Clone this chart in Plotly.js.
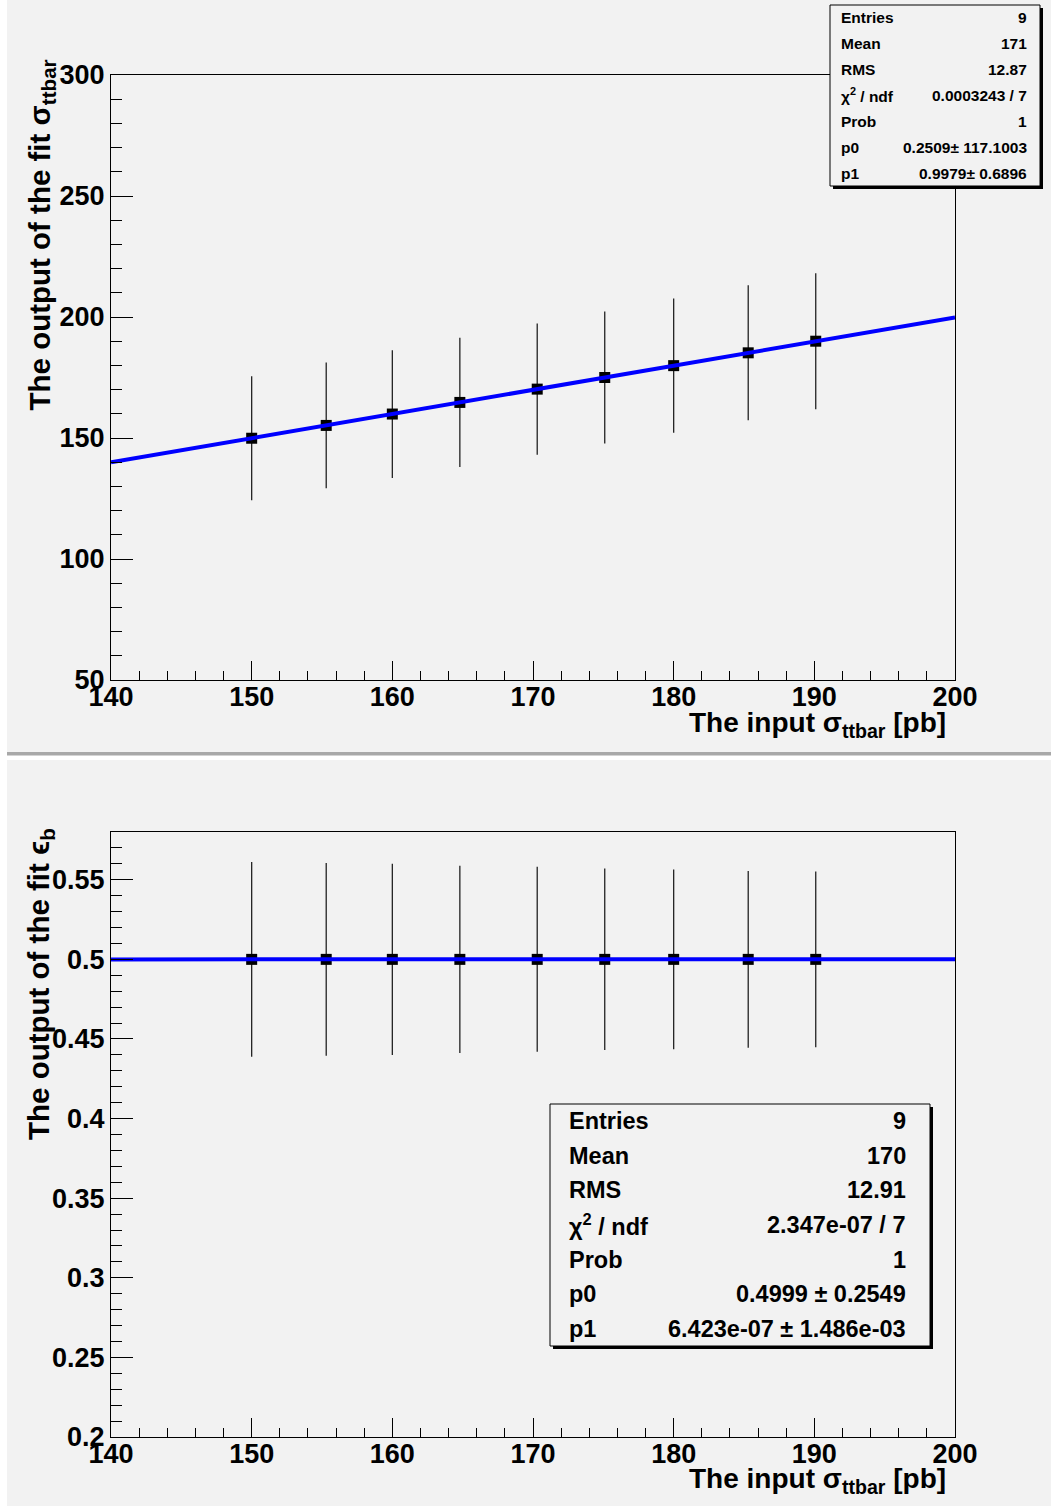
<!DOCTYPE html>
<html>
<head>
<meta charset="utf-8">
<script src="https://cdn.plot.ly/plotly-3.0.1.min.js"></script>
<style>html,body{margin:0;padding:0;background:#fff;}#chart{width:1051px;height:1506px;}</style>
</head>
<body>
<div id="chart"></div>
<script>
// ---- data ----
const inputXs = [150.0, 155.3, 160.0, 164.8, 170.3, 175.1, 180.0, 185.3, 190.1];
const sigmaOut = [149.9, 155.2, 159.9, 164.7, 170.2, 175.0, 179.9, 185.2, 190.0];
const sigmaErr = [25.6, 26.0, 26.4, 26.7, 27.1, 27.3, 27.7, 27.9, 28.1];
const effOut = [0.5, 0.5, 0.5, 0.5, 0.5, 0.5, 0.5, 0.5, 0.5];
const effErr = [0.0612, 0.0606, 0.0600, 0.0588, 0.0581, 0.0570, 0.0565, 0.0555, 0.0552];
const fitRange = [140, 200];
const fitTop = {p0: 0.2509, p1: 0.9979};
const fitBot = {p0: 0.4999, p1: 6.423e-07};
const statsLabelsTop = ["Entries", "Mean", "RMS", "χ<sup>2</sup> / ndf", "Prob", "p0", "p1"];
const statsValuesTop = ["9", "171", "12.87", "0.0003243 / 7", "1", "0.2509± 117.1003", "0.9979± 0.6896"];
const statsLabelsBot = ["Entries", "Mean", "RMS", "χ<sup>2</sup> / ndf", "Prob", "p0", "p1"];
const statsValuesBot = ["9", "170", "12.91", "2.347e-07 / 7", "1", "0.4999 ± 0.2549", "6.423e-07 ± 1.486e-03"];
const xTitle = "The input σ<sub>ttbar</sub> [pb]";
const yTitleTop = "The output of the fit σ<sub>ttbar</sub>";
const yTitleBot = "The output of the fit ϵ<sub>b</sub>";

// ---- helpers ----
const W = 1051, H = 1506;
const fx = p => p / W;
const fy = p => 1 - p / H;
const FONT = "Liberation Sans, Arial, Helvetica, sans-serif";

const fitTopY = fitRange.map(x => fitTop.p0 + fitTop.p1 * x);
const fitBotY = fitRange.map(x => fitBot.p0 + fitBot.p1 * x);

const traces = [
  {x: inputXs, y: sigmaOut, xaxis: 'x', yaxis: 'y', type: 'scatter', mode: 'markers',
   marker: {symbol: 'square', size: 11, color: '#000'},
   error_y: {type: 'data', array: sigmaErr, visible: true, color: '#222', thickness: 1.3, width: 0},
   hoverinfo: 'skip', showlegend: false},
  {x: fitRange, y: fitTopY, xaxis: 'x', yaxis: 'y', type: 'scatter', mode: 'lines',
   line: {color: '#0000ff', width: 4}, showlegend: false, hoverinfo: 'skip'},
  {x: inputXs, y: effOut, xaxis: 'x2', yaxis: 'y2', type: 'scatter', mode: 'markers',
   marker: {symbol: 'square', size: 11, color: '#000'},
   error_y: {type: 'data', array: effErr, visible: true, color: '#222', thickness: 1.3, width: 0},
   hoverinfo: 'skip', showlegend: false},
  {x: fitRange, y: fitBotY, xaxis: 'x2', yaxis: 'y2', type: 'scatter', mode: 'lines',
   line: {color: '#0000ff', width: 4}, showlegend: false, hoverinfo: 'skip'}
];

const tickFont = {family: FONT, size: 27, color: '#000', weight: 'bold'};
function xAx(anchor) {
  return {domain: [fx(111), fx(955)], anchor: anchor, range: fitRange, tick0: 140, dtick: 10,
    showline: true, mirror: true, linecolor: '#000', linewidth: 1,
    ticks: 'inside', ticklen: 19, tickwidth: 1, tickcolor: '#000', ticklabelstandoff: -7,
    minor: {ticks: 'inside', dtick: 2, ticklen: 9, tickwidth: 1, tickcolor: '#000', showgrid: false},
    showgrid: false, zeroline: false, tickfont: tickFont, fixedrange: true};
}
function yAx(anchor, dom, range, dtick, minorD) {
  return {domain: dom, anchor: anchor, range: range, tick0: range[0], dtick: dtick,
    showline: true, mirror: true, linecolor: '#000', linewidth: 1,
    ticks: 'inside', ticklen: 22, tickwidth: 1, tickcolor: '#000',
    minor: {ticks: 'inside', dtick: minorD, ticklen: 11, tickwidth: 1, tickcolor: '#000', showgrid: false},
    showgrid: false, zeroline: false, tickfont: tickFont, fixedrange: true};
}

const shapes = [
  {type: 'rect', xref: 'paper', yref: 'paper', x0: fx(7), x1: 1, y0: fy(752), y1: 1, fillcolor: '#f2f2f2', line: {width: 0}, layer: 'below'},
  {type: 'rect', xref: 'paper', yref: 'paper', x0: fx(7), x1: 1, y0: fy(755.5), y1: fy(752), fillcolor: '#a8a8a8', line: {width: 0}, layer: 'below'},
  {type: 'rect', xref: 'paper', yref: 'paper', x0: fx(7), x1: 1, y0: 0, y1: fy(760), fillcolor: '#f2f2f2', line: {width: 0}, layer: 'below'}
];
const annotations = [];

function statsBox(x0, y0, x1, y1, labels, values, fs, padL, padR) {
  shapes.push({type: 'rect', xref: 'paper', yref: 'paper', x0: fx(x0 + 3), x1: fx(x1 + 3), y0: fy(y1 + 3), y1: fy(y0 + 3), fillcolor: '#000', line: {width: 0}, layer: 'above'});
  shapes.push({type: 'rect', xref: 'paper', yref: 'paper', x0: fx(x0), x1: fx(x1), y0: fy(y1), y1: fy(y0), fillcolor: '#f2f2f2', line: {width: 1, color: '#000'}, layer: 'above'});
  const n = labels.length;
  const rowH = (y1 - y0) / n;
  for (let i = 0; i < n; i++) {
    const cy = y0 + rowH * (i + 0.5);
    annotations.push({xref: 'paper', yref: 'paper', x: fx(x0 + padL), y: fy(cy), xanchor: 'left', yanchor: 'middle',
      text: labels[i], showarrow: false, font: {family: FONT, size: fs, color: '#000', weight: 'bold'}});
    annotations.push({xref: 'paper', yref: 'paper', x: fx(x1 - padR), y: fy(cy), xanchor: 'right', yanchor: 'middle',
      text: values[i], showarrow: false, font: {family: FONT, size: fs, color: '#000', weight: 'bold'}});
  }
}

const titleFont = {family: FONT, size: 29.5, color: '#000', weight: 'bold'};
const xTitleFont = {family: FONT, size: 28, color: '#000', weight: 'bold'};
annotations.push({xref: 'paper', yref: 'paper', x: fx(948), y: fy(705), xanchor: 'right', yanchor: 'top', text: xTitle, showarrow: false, font: xTitleFont});
annotations.push({xref: 'paper', yref: 'paper', x: fx(948), y: fy(1461), xanchor: 'right', yanchor: 'top', text: xTitle, showarrow: false, font: xTitleFont});
annotations.push({xref: 'paper', yref: 'paper', x: fx(41), y: fy(58), xanchor: 'center', yanchor: 'top', textangle: -90, text: yTitleTop, showarrow: false, font: titleFont});
annotations.push({xref: 'paper', yref: 'paper', x: fx(41), y: fy(826), xanchor: 'center', yanchor: 'top', textangle: -90, text: yTitleBot, showarrow: false, font: titleFont});

statsBox(830, 5, 1040, 186, statsLabelsTop, statsValuesTop, 15.5, 9, 11);
statsBox(550, 1104, 930, 1346, statsLabelsBot, statsValuesBot, 23.5, 17, 22);

const layout = {
  width: W, height: H, margin: {l: 0, r: 0, t: 0, b: 0},
  paper_bgcolor: '#ffffff', plot_bgcolor: '#f2f2f2',
  showlegend: false,
  xaxis: xAx('y'), yaxis: yAx('x', [fy(680), fy(75)], [50, 300], 50, 10),
  xaxis2: xAx('y2'), yaxis2: yAx('x2', [fy(1437), fy(832)], [0.2, 0.58], 0.05, 0.01),
  shapes: shapes, annotations: annotations
};

Plotly.newPlot('chart', traces, layout, {staticPlot: true, displayModeBar: false});
</script>
</body>
</html>
